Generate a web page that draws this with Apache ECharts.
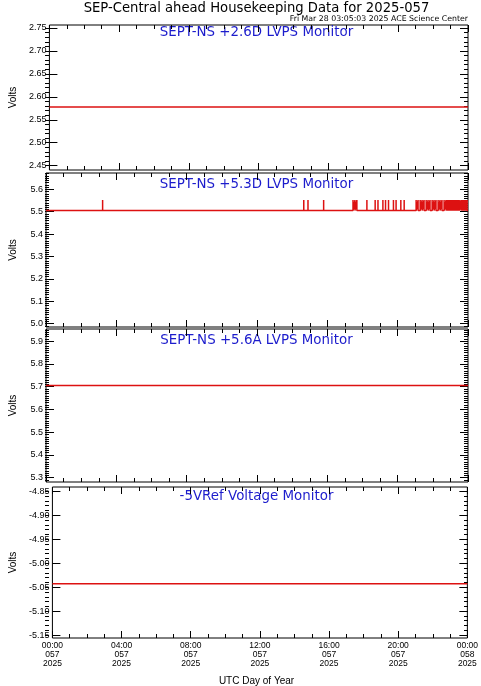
<!DOCTYPE html>
<html><head><meta charset="utf-8">
<script src="https://cdn.jsdelivr.net/npm/echarts@6/dist/echarts.min.js"></script>
<style>html,body{margin:0;padding:0;background:#fff}#c{width:481px;height:686px}</style>
</head><body><div id="c"></div>
<script>
// ---- text ----
const titleText = 'SEP-Central ahead Housekeeping Data for 2025-057';
const stampText = 'Fri Mar 28 03:05:03 2025 ACE Science Center';
const panelTitles = ['SEPT-NS +2.6D LVPS Monitor', 'SEPT-NS +5.3D LVPS Monitor', 'SEPT-NS +5.6A LVPS Monitor', '-5VRef Voltage Monitor'];
const yAxisName = 'Volts';
const xAxisName = 'UTC Day of Year';

// ---- x axis (hours of day 057) ----
const xTickHours = [0, 4, 8, 12, 16, 20, 24];
const xTickTimes = ['00:00', '04:00', '08:00', '12:00', '16:00', '20:00', '00:00'];
const xTickDays = ['057', '057', '057', '057', '057', '057', '058'];
const xTickYears = ['2025', '2025', '2025', '2025', '2025', '2025', '2025'];

// ---- y axes ----
const yRange1 = [2.4406, 2.7565];
const yTicks1 = [2.45, 2.50, 2.55, 2.60, 2.65, 2.70, 2.75];
const yRange2 = [4.985, 5.673];
const yTicks2 = [5.0, 5.1, 5.2, 5.3, 5.4, 5.5, 5.6];
const yRange3 = [5.281, 5.954];
const yTicks3 = [5.3, 5.4, 5.5, 5.6, 5.7, 5.8, 5.9];
const yRange4 = [-5.156, -4.841];
const yTicks4 = [-5.15, -5.10, -5.05, -5.00, -4.95, -4.90, -4.85];

// ---- series ----
const p1Hours = [0, 24];
const p1Volts = [2.578, 2.578];
const p2Hours = [0, 24];
const p2Volts = [5.505, 5.505];
const p2SpikeHours = [3.22, 14.66, 14.90, 15.79, 17.46, 17.57, 17.68, 18.25, 18.72, 18.88,
  19.16, 19.31, 19.48, 19.76, 19.91, 20.18, 20.37, 21.05, 21.16, 21.28, 21.39, 21.50,
  21.62, 21.73, 21.84, 21.96, 22.07, 22.18, 22.30, 22.41, 22.52, 22.64, 22.75,
  22.80, 22.85, 22.90, 22.95, 23.00, 23.05, 23.10, 23.15, 23.20, 23.25, 23.30, 23.35,
  23.40, 23.45, 23.50, 23.60, 23.65, 23.70, 23.75, 23.80, 23.85, 23.90, 23.95];
const p2SpikeTop = 5.552;
const p3Hours = [0, 24];
const p3Volts = [5.705, 5.705];
const p4Hours = [0, 24];
const p4Volts = [-5.043, -5.043];

// ---- layout ----
const L = 45, R = 13;
const panels = [
  {top: 25, height: 145},
  {top: 173, height: 154},
  {top: 329, height: 153},
  {top: 487, height: 151}
];
const panelTitleY = [33, 185, 341, 497];
const ranges = [yRange1, yRange2, yRange3, yRange4];
const ticks = [yTicks1, yTicks2, yTicks3, yTicks4];
const decimals = [2, 1, 1, 2];
const minorStep = 0.01;
const lineColor = '#dd1111';
const blue = '#1c1ccc';
const tickFont = 'Liberation Sans';

function minorValues(r) {
  const out = [];
  const start = Math.ceil(r[0] / minorStep - 1e-6);
  const end = Math.floor(r[1] / minorStep + 1e-6);
  for (let k = start; k <= end; k++) out.push(+(k * minorStep).toFixed(4));
  return out;
}
function pairs(h, v) { return h.map((x, i) => [x, v[i]]); }

const p2Data = [[p2Hours[0], p2Volts[0]]];
p2SpikeHours.forEach(h => { p2Data.push([h, p2Volts[0]], [h, p2SpikeTop], [h, p2Volts[0]]); });
p2Data.push([p2Hours[1], p2Volts[1]]);
const seriesData = [pairs(p1Hours, p1Volts), p2Data, pairs(p3Hours, p3Volts), pairs(p4Hours, p4Volts)];

const gridOpt = [], xAxes = [], yAxes = [], series = [];
const tickLine = {color: '#000', width: 1};
panels.forEach((g, i) => {
  const r = ranges[i];
  // main grid (frame, major ticks, labels, data)
  const gMain = gridOpt.length;
  gridOpt.push({left: L, right: R, top: g.top, height: g.height, show: true,
    borderColor: '#000', borderWidth: 1, backgroundColor: 'transparent'});
  // minor-tick grid, same rectangle
  const gMinor = gridOpt.length;
  gridOpt.push({left: L, right: R, top: g.top, height: g.height, show: false});

  const xMain = xAxes.length;
  ['bottom', 'top'].forEach(pos => {
    const showLabel = (i === 3 && pos === 'bottom');
    xAxes.push({
      type: 'value', gridIndex: gMain, position: pos, min: 0, max: 24, interval: 4,
      axisLine: {show: false, onZero: false}, splitLine: {show: false},
      axisTick: {show: true, inside: true, length: 7, lineStyle: tickLine},
      minorTick: {show: true, splitNumber: 4, length: 4, lineStyle: tickLine},
      axisLabel: {show: showLabel, margin: 3, fontFamily: tickFont, fontSize: 8.5, lineHeight: 9,
        color: '#000', showMinLabel: true, showMaxLabel: true,
        formatter: v => { const k = xTickHours.indexOf(v); return k < 0 ? '' : xTickTimes[k] + '\n' + xTickDays[k] + '\n' + xTickYears[k]; }}
    });
  });
  xAxes.push({type: 'value', gridIndex: gMinor, min: 0, max: 24, show: false,
    axisLine: {onZero: false}, splitLine: {show: false}});

  const yMain = yAxes.length;
  ['left', 'right'].forEach(pos => {
    yAxes.push({
      type: 'value', gridIndex: gMain, position: pos, min: r[0], max: r[1],
      name: pos === 'left' ? yAxisName : '', nameLocation: 'middle', nameGap: 28,
      nameTextStyle: {fontFamily: tickFont, fontSize: 10, color: '#000'},
      axisLine: {show: false, onZero: false}, splitLine: {show: false},
      axisTick: {show: true, inside: true, length: 8, customValues: ticks[i], lineStyle: tickLine},
      axisLabel: {show: pos === 'left', customValues: ticks[i], margin: 3, fontFamily: tickFont, fontSize: 9, color: '#000',
        formatter: v => v.toFixed(decimals[i])}
    });
  });
  ['left', 'right'].forEach(pos => {
    yAxes.push({
      type: 'value', gridIndex: gMinor, position: pos, min: r[0], max: r[1],
      axisLine: {show: false, onZero: false}, splitLine: {show: false},
      axisTick: {show: true, inside: true, length: 4, customValues: minorValues(r), lineStyle: tickLine},
      axisLabel: {show: false, customValues: minorValues(r)}
    });
  });
  series.push({type: 'line', xAxisIndex: xMain, yAxisIndex: yMain, data: seriesData[i],
    symbol: 'none', showSymbol: false, animation: false,
    lineStyle: {color: lineColor, width: 1.5}, z: 3});
});

const graphics = [
  {type: 'text', x: 256.5, y: 9, style: {text: titleText, fill: '#000', font: '13.2px "DejaVu Sans"', textAlign: 'center', textVerticalAlign: 'middle'}},
  {type: 'text', x: 468, y: 19, style: {text: stampText, fill: '#000', font: '7.8px "DejaVu Sans"', textAlign: 'right', textVerticalAlign: 'middle'}},
  {type: 'text', x: 256.5, y: 681, style: {text: xAxisName, fill: '#000', font: '10px "Liberation Sans"', textAlign: 'center', textVerticalAlign: 'middle'}}
];
panelTitles.forEach((t, i) => graphics.push({type: 'text', x: 256.5, y: panelTitleY[i],
  style: {text: t, fill: blue, font: '13.4px "DejaVu Sans"', textAlign: 'center', textVerticalAlign: 'middle'}}));

const chart = echarts.init(document.getElementById('c'), null, {renderer: 'canvas'});
chart.setOption({
  animation: false,
  backgroundColor: '#fff',
  grid: gridOpt, xAxis: xAxes, yAxis: yAxes, series: series, graphic: graphics
});
</script></body></html>
